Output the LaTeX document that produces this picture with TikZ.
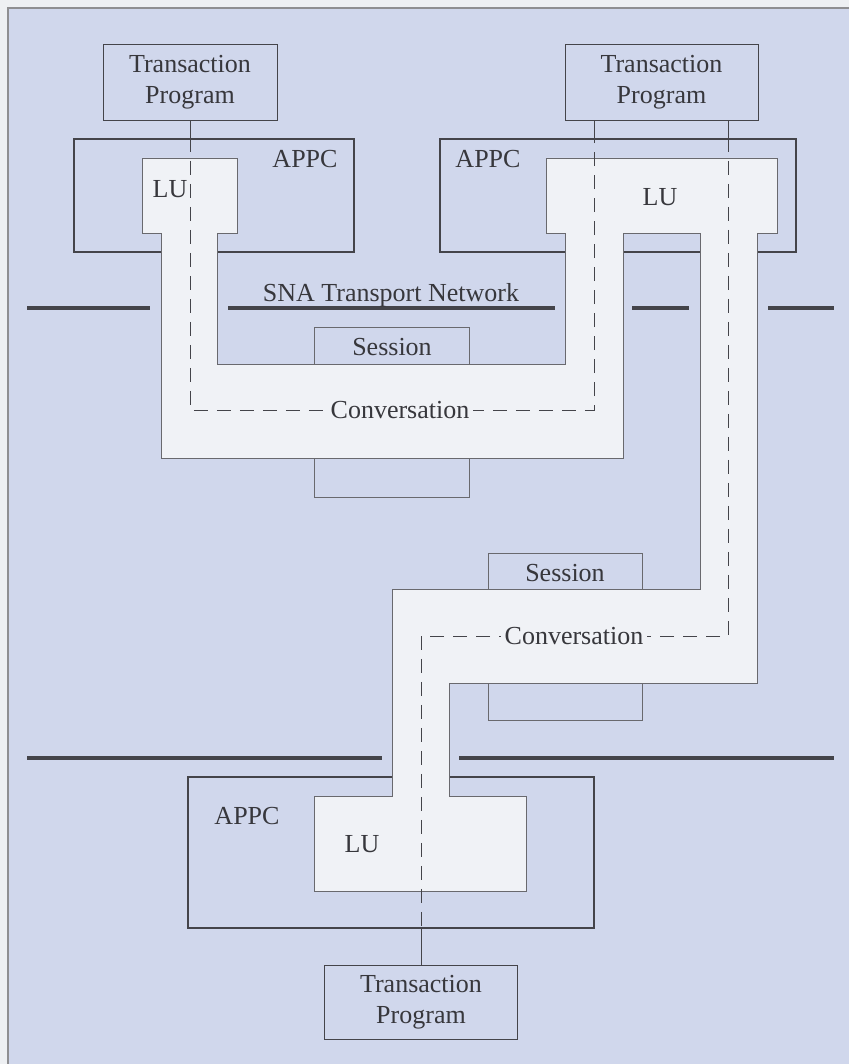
\documentclass[tikz,border=0pt]{standalone}
\usepackage{fontspec}
\setmainfont{Liberation Serif}
\usepackage{tikz}
\definecolor{snapaper}{RGB}{238,240,243}
\definecolor{snabg}{RGB}{208,215,236}
\definecolor{snapipe}{RGB}{240,242,246}
\definecolor{snaline}{RGB}{68,68,74}
\definecolor{snatext}{RGB}{55,55,60}

\begin{document}
\begin{tikzpicture}[x=1pt,y=-1pt,
    every node/.style={text=snatext, font=\fontsize{26}{31}\selectfont},
    tpbox/.style={draw=snaline, line width=0.9pt, inner sep=0pt, align=center},
    appcbox/.style={draw=snaline, line width=2.2pt, inner sep=0pt},
    sessbox/.style={draw=snaline!80, line width=0.9pt, inner sep=0pt},
    netline/.style={draw=snaline, line width=3.2pt},
    pipe/.style={fill=snapipe, draw=snaline!80, line width=0.9pt},
    tie/.style={draw=snaline, line width=0.9pt},
    conv/.style={tie, dash pattern=on 14pt off 9pt},
    convlabel/.style={fill=snapipe, inner xsep=4pt, inner ysep=1pt}]

    % Page
    \useasboundingbox (0,0) rectangle (849,1064);
    \fill[snapaper] (0,0) rectangle (849,1064);
    \fill[snabg] (8,8) rectangle (849,1064);
    \draw[snaline!60, line width=1.2pt] (8,1064) -- (8,8) -- (849,8);

    % Transaction programs
    \node[tpbox, minimum width=174pt, minimum height=76pt] (tp1) at (190,82) {Transaction\\Program};
    \node[tpbox, minimum width=193pt, minimum height=76pt] (tp2) at (661.5,82) {Transaction\\Program};
    \node[tpbox, minimum width=193pt, minimum height=74pt] (tp3) at (421,1002) {Transaction\\Program};

    % Sessions (behind the pipes)
    \node[sessbox, minimum width=154.5pt, minimum height=170pt] (sess1) at (391.75,412) {};
    \node[sessbox, minimum width=154pt, minimum height=167pt] (sess2) at (565,636.5) {};

    % APPC boxes
    \node[appcbox, minimum width=280pt, minimum height=113pt] (appc1) at (214,195.5) {};
    \node[appcbox, minimum width=356pt, minimum height=113pt] (appc2) at (618,195.5) {};
    \node[appcbox, minimum width=406pt, minimum height=151pt] (appc3) at (391,852.5) {};

    % Network boundaries
    \draw[netline] (27,308) -- (150,308);
    \draw[netline] (228,308) -- (555,308);
    \draw[netline] (632,308) -- (689,308);
    \draw[netline] (768,308) -- (834,308);
    \draw[netline] (27,758) -- (382,758);
    \draw[netline] (459,758) -- (834,758);

    % LUs and session pipes
    \draw[pipe] (142,158) -- (237,158) -- (237,233) -- (217,233) -- (217,364)
        -- (565,364) -- (565,233) -- (546,233) -- (546,158) -- (777,158)
        -- (777,233) -- (757,233) -- (757,683) -- (449,683) -- (449,796)
        -- (526,796) -- (526,891) -- (314.5,891) -- (314.5,796) -- (392,796)
        -- (392,589) -- (700,589) -- (700,233) -- (623,233) -- (623,458)
        -- (161,458) -- (161,233) -- (142,233) -- cycle;

    % Conversations
    \coordinate (cv1a) at (190,410);
    \coordinate (cv1b) at (594,410);
    \coordinate (cv2a) at (728,636);
    \coordinate (cv2b) at (421,636);
    \draw[tie] (tp1.south) -- (tp1.south |- appc1.north);
    \draw[tie] (tp2.south -| cv1b) -- (cv1b |- appc2.north);
    \draw[tie] (tp2.south -| cv2a) -- (cv2a |- appc2.north);
    \draw[tie] (appc3.south -| tp3.north) -- (tp3.north);
    \draw[conv] (cv1a |- appc1.north) -- (cv1a) -- (cv1b) -- (cv1b |- appc2.north);
    \draw[conv] (cv2a |- appc2.north) -- (cv2a) -- (cv2b) -- (cv2b |- appc3.south);
    \node[convlabel] (conv1) at (400,410) {Conversation};
    \node[convlabel] (conv2) at (574,636) {Conversation};

    % Labels
    \node (sess1lbl) at (392,347) {Session};
    \node (sess2lbl) at (565,573) {Session};
    \node (appc1lbl) at (305,159) {APPC};
    \node (appc2lbl) at (488,159) {APPC};
    \node (appc3lbl) at (247,816) {APPC};
    \node (lu1lbl) at (170,189) {LU};
    \node (lu2lbl) at (660,197) {LU};
    \node (lu3lbl) at (362,844) {LU};
    \node (netlbl) at (391,295) {SNA Transport Network};
\end{tikzpicture}
\end{document}
